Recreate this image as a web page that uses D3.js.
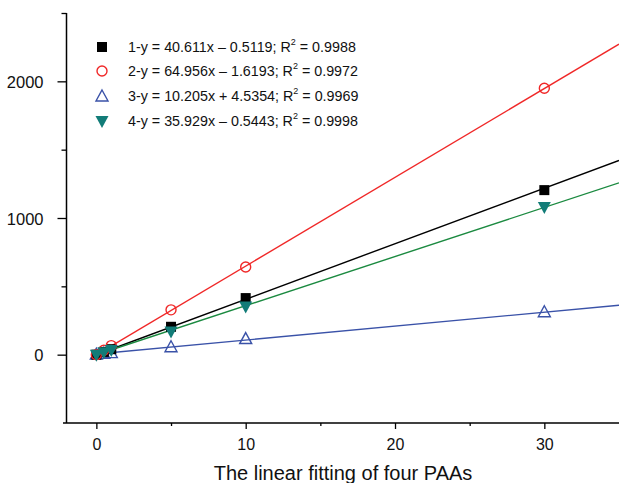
<!DOCTYPE html>
<html><head><meta charset="utf-8">
<script src="https://cdn.jsdelivr.net/npm/d3@7"></script>
<style>body{margin:0;background:#fff}svg{display:block}text{font-family:"Liberation Sans",Arial,sans-serif;fill:#111}</style>
</head><body><div id="chart"></div>
<script>
const xValues = [0, 0.5, 1, 5, 10, 30];
const series1 = [0, 20, 40, 204, 414, 1204];
const series2 = [0, 32, 66, 328, 642, 1949];
const series3 = [4, 10, 15, 58, 118, 314];
const series4 = [0, 18, 35, 170, 352, 1080];
const slopes = [40.611, 64.956, 10.205, 35.929];
const intercepts = [-0.5119, -1.6193, 4.5354, -0.5443];
const legendLabels = ["1-y = 40.611x \u2013 0.5119; R", "2-y = 64.956x \u2013 1.6193; R", "3-y = 10.205x + 4.5354; R", "4-y = 35.929x \u2013 0.5443; R"];
const r2 = ["0.9988", "0.9972", "0.9969", "0.9998"];
const xMajor = [0, 10, 20, 30];
const xMinor = [5, 15, 25];
const yMajor = [0, 1000, 2000];
const yMinor = [500, 1500, 2500];
const xTitle = "The linear fitting of four PAAs";

const W = 619, H = 483;
const svg = d3.select("#chart").append("svg").attr("width", W).attr("height", H);
const x = d3.scaleLinear().domain([-2, 35]).range([66.5, 619]);
const y = d3.scaleLinear().domain([-500, 2500]).range([423, 13]);

const styles = [
  {line: "#000000", stroke: "#000000", fill: "#000000", sym: "square"},
  {line: "#f02828", stroke: "#f02828", fill: "none", sym: "circle"},
  {line: "#3a52a8", stroke: "#3a52a8", fill: "none", sym: "tri"},
  {line: "#1b8a40", stroke: "#127c78", fill: "#127c78", sym: "tridown"}
];
const data = [series1, series2, series3, series4];

// axes
const gx = svg.append("g").attr("transform", `translate(0,${y(-500)})`)
  .call(d3.axisBottom(x).tickValues(xMajor).tickSize(6).tickSizeOuter(0).tickFormat(d3.format("d")));
gx.select(".domain").remove();
gx.append("line").attr("x1", 63).attr("x2", 619).attr("stroke", "#000").attr("stroke-width", 1.5);
gx.selectAll("text").attr("font-size", 16).attr("y", 15.5).attr("dy", "0.71em").attr("fill", "#111");
gx.selectAll(".tick line").attr("stroke-width", 1.3);
svg.append("g").attr("transform", `translate(0,${y(-500)})`)
  .call(d3.axisBottom(x).tickValues(xMinor).tickSize(3).tickFormat(""))
  .call(g => g.select(".domain").remove())
  .selectAll("line").attr("stroke-width", 1.3);

const gy = svg.append("g").attr("transform", `translate(${x(-2)},0)`)
  .call(d3.axisLeft(y).tickValues(yMajor).tickSize(9).tickSizeOuter(0).tickFormat(d3.format("d")));
gy.select(".domain").remove();
gy.append("line").attr("y1", 13).attr("y2", 423).attr("stroke", "#000").attr("stroke-width", 1.5);
gy.selectAll("text").attr("font-size", 16.5).attr("x", -23).attr("dy", "0.38em").attr("fill", "#111");
gy.selectAll(".tick line").attr("stroke-width", 1.3);
svg.append("g").attr("transform", `translate(${x(-2)},0)`)
  .call(d3.axisLeft(y).tickValues(yMinor).tickSize(5).tickFormat(""))
  .call(g => g.select(".domain").remove())
  .selectAll("line").attr("stroke-width", 1.3);

svg.append("text").attr("x", 343).attr("y", 480).attr("text-anchor", "middle")
  .attr("font-size", 20).text(xTitle);

// fit lines
svg.append("clipPath").attr("id", "c").append("rect")
  .attr("x", 66).attr("y", 13).attr("width", 553).attr("height", 410);
const plot = svg.append("g").attr("clip-path", "url(#c)");
slopes.forEach((m, i) => {
  const x0 = 0, x1 = 35;
  plot.append("line").attr("x1", x(x0)).attr("y1", y(m * x0 + intercepts[i]))
    .attr("x2", x(x1)).attr("y2", y(m * x1 + intercepts[i]))
    .attr("stroke", styles[i].line).attr("stroke-width", 1.4);
});

function drawMarker(g, st, cx, cy) {
  if (st.sym === "square") {
    g.append("rect").attr("x", cx - 5).attr("y", cy - 5).attr("width", 10).attr("height", 10).attr("fill", st.fill);
  } else if (st.sym === "circle") {
    g.append("circle").attr("cx", cx).attr("cy", cy).attr("r", 5).attr("fill", "none").attr("stroke", st.stroke).attr("stroke-width", 1.4);
  } else if (st.sym === "tri") {
    g.append("path").attr("d", `M${cx},${cy - 6}L${cx + 6},${cy + 5}L${cx - 6},${cy + 5}Z`).attr("fill", "none").attr("stroke", st.stroke).attr("stroke-width", 1.4);
  } else {
    g.append("path").attr("d", `M${cx - 6.5},${cy - 5}L${cx + 6.5},${cy - 5}L${cx},${cy + 7}Z`).attr("fill", st.fill);
  }
}

// markers: draw in order 3,1,2,4 so teal sits on top
[2, 0, 1, 3].forEach(i => {
  const g = svg.append("g");
  data[i].forEach((v, j) => drawMarker(g, styles[i], x(xValues[j]), y(v)));
});

// legend
const lg = svg.append("g");
const rowsY = [47, 71, 96, 121];
legendLabels.forEach((t, i) => {
  drawMarker(lg, styles[i], 102, rowsY[i]);
  const tx = lg.append("text").attr("x", 128).attr("y", rowsY[i] + 5).attr("font-size", 14.3);
  tx.append("tspan").text(t);
  tx.append("tspan").attr("font-size", 9).attr("dy", -7).text("2");
  tx.append("tspan").attr("dy", 7).text(" = " + r2[i]);
});
</script>
</body></html>
